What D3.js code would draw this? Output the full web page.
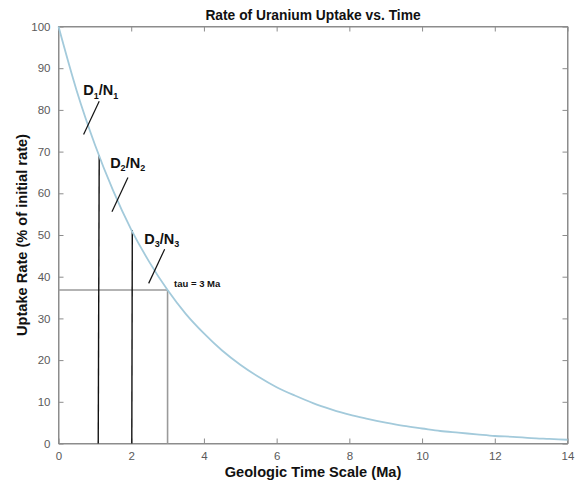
<!DOCTYPE html>
<html>
<head>
<meta charset="utf-8">
<script src="https://cdn.jsdelivr.net/npm/d3@7"></script>
<style>
  html, body { margin: 0; padding: 0; background: #fff; }
  svg { display: block; font-family: "Liberation Sans", Arial, Helvetica, sans-serif; }
</style>
</head>
<body>
<svg id="chart" width="577" height="482"></svg>
<script>
// Uptake rate (% of initial rate) against geologic time (Ma)
const timeMa = [0, 0.5, 1, 1.5, 2, 2.5, 3, 3.5, 4, 4.5, 5, 5.5, 6, 6.5, 7, 7.5,
                8, 8.5, 9, 9.5, 10, 10.5, 11, 11.5, 12, 12.5, 13, 13.5, 14];
const uptakeRate = [100, 84.6, 71.7, 60.7, 51.3, 43.5, 36.8, 31.1, 26.4, 22.3, 18.9, 16.0,
                    13.5, 11.5, 9.7, 8.2, 6.9, 5.9, 5.0, 4.2, 3.6, 3.0, 2.6, 2.2, 1.8,
                    1.6, 1.3, 1.1, 0.9];

const xTicks = [0, 2, 4, 6, 8, 10, 12, 14];
const yTicks = [0, 10, 20, 30, 40, 50, 60, 70, 80, 90, 100];

// Dated intervals: time (Ma) and uptake rate at top of each marker
const markerTimes = [1.12, 2.03];
const markerTops = [69.2, 51.2];

// Time constant
const tauTime = 3;
const tauRate = 36.8;

// Labels for curve segments with anchor points (time, rate) and leader lines
const segmentLabels = [
  { num: "D", numSub: "1", den: "N", denSub: "1", t: 0.68, r: 83.5, lineFrom: [1.12, 82.1], lineTo: [0.69, 74.1] },
  { num: "D", numSub: "2", den: "N", denSub: "2", t: 1.42, r: 66.1, lineFrom: [1.91, 63.8], lineTo: [1.47, 55.6] },
  { num: "D", numSub: "3", den: "N", denSub: "3", t: 2.36, r: 47.9, lineFrom: [2.92, 46.6], lineTo: [2.48, 38.4] }
];

const svg = d3.select("#chart");
const margin = { left: 58.5, right: 9.5, top: 26.5, bottom: 38.5 };
const W = 577, H = 482;

const x = d3.scaleLinear().domain([0, 14]).range([margin.left, W - margin.right]);
const y = d3.scaleLinear().domain([0, 100]).range([H - margin.bottom, margin.top]);

const axisColor = "#8c8c8c";
const tickText = "#5a5a5a";

// Box frame
svg.append("rect")
  .attr("x", x(0)).attr("y", y(100))
  .attr("width", x(14) - x(0)).attr("height", y(0) - y(100))
  .attr("fill", "none").attr("stroke", axisColor).attr("stroke-width", 1);

// Axes with inward ticks
function styleAxis(g) {
  g.select(".domain").attr("stroke", axisColor);
  g.selectAll(".tick line").attr("stroke", axisColor);
  g.selectAll(".tick text").attr("fill", tickText).attr("font-size", 11.5);
}

svg.append("g").attr("transform", `translate(0,${y(0)})`)
  .call(d3.axisBottom(x).tickValues(xTicks).tickFormat(d3.format("d")).tickSizeInner(-5).tickSizeOuter(0).tickPadding(8))
  .call(styleAxis);
svg.append("g").attr("transform", `translate(0,${y(100)})`)
  .call(d3.axisTop(x).tickValues(xTicks).tickFormat("").tickSizeInner(-5).tickSizeOuter(0))
  .call(styleAxis);
svg.append("g").attr("transform", `translate(${x(0)},0)`)
  .call(d3.axisLeft(y).tickValues(yTicks).tickFormat(d3.format("d")).tickSizeInner(-5).tickSizeOuter(0).tickPadding(8))
  .call(styleAxis);
svg.append("g").attr("transform", `translate(${x(14)},0)`)
  .call(d3.axisRight(y).tickValues(yTicks).tickFormat("").tickSizeInner(-5).tickSizeOuter(0))
  .call(styleAxis);

// Tau guide lines
svg.append("line")
  .attr("x1", x(0)).attr("x2", x(tauTime))
  .attr("y1", y(tauRate)).attr("y2", y(tauRate))
  .attr("stroke", "#9a9a9a").attr("stroke-width", 1.6);
svg.append("line")
  .attr("x1", x(tauTime)).attr("x2", x(tauTime))
  .attr("y1", y(0)).attr("y2", y(tauRate))
  .attr("stroke", "#9a9a9a").attr("stroke-width", 1.6);

// Dated interval markers
svg.selectAll(".marker").data(markerTimes).enter().append("line")
  .attr("class", "marker")
  .attr("x1", d => x(d)).attr("x2", (d, i) => x(d) - (i === 0 ? 1 : 0.5))
  .attr("y1", (d, i) => y(markerTops[i])).attr("y2", y(0))
  .attr("stroke", "#111").attr("stroke-width", 1.4);

// Decay curve
const line = d3.line()
  .x((d, i) => x(timeMa[i]))
  .y(d => y(d))
  .curve(d3.curveMonotoneX);
svg.append("path")
  .datum(uptakeRate)
  .attr("d", line)
  .attr("fill", "none")
  .attr("stroke", "#a3cadb")
  .attr("stroke-width", 1.8);

// Segment labels with leader lines
segmentLabels.forEach(s => {
  const t = svg.append("text")
    .attr("x", x(s.t)).attr("y", y(s.r))
    .attr("font-size", 14.5).attr("font-weight", "bold").attr("fill", "#111");
  t.append("tspan").text(s.num);
  t.append("tspan").attr("font-size", 9).attr("dy", 3.5).text(s.numSub);
  t.append("tspan").attr("dy", -3.5).text("/" + s.den);
  t.append("tspan").attr("font-size", 9).attr("dy", 3.5).text(s.denSub);
  svg.append("line")
    .attr("x1", x(s.lineFrom[0])).attr("y1", y(s.lineFrom[1]))
    .attr("x2", x(s.lineTo[0])).attr("y2", y(s.lineTo[1]))
    .attr("stroke", "#111").attr("stroke-width", 1.2);
});

svg.append("text")
  .attr("x", x(3.18)).attr("y", y(37.6))
  .attr("font-size", 9.5).attr("font-weight", "bold").attr("fill", "#111")
  .text("tau = 3 Ma");

// Title and axis labels
svg.append("text")
  .attr("x", (x(0) + x(14)) / 2).attr("y", 20)
  .attr("text-anchor", "middle").attr("font-size", 13.8).attr("font-weight", "bold").attr("fill", "#111")
  .text("Rate of Uranium Uptake vs. Time");

svg.append("text")
  .attr("x", (x(0) + x(14)) / 2).attr("y", 477)
  .attr("text-anchor", "middle").attr("font-size", 14.6).attr("font-weight", "bold").attr("fill", "#111")
  .text("Geologic Time Scale (Ma)");

svg.append("text")
  .attr("transform", `translate(27,${(y(0) + y(100)) / 2}) rotate(-90)`)
  .attr("text-anchor", "middle").attr("font-size", 14.6).attr("font-weight", "bold").attr("fill", "#111")
  .text("Uptake Rate (% of initial rate)");
</script>
</body>
</html>
